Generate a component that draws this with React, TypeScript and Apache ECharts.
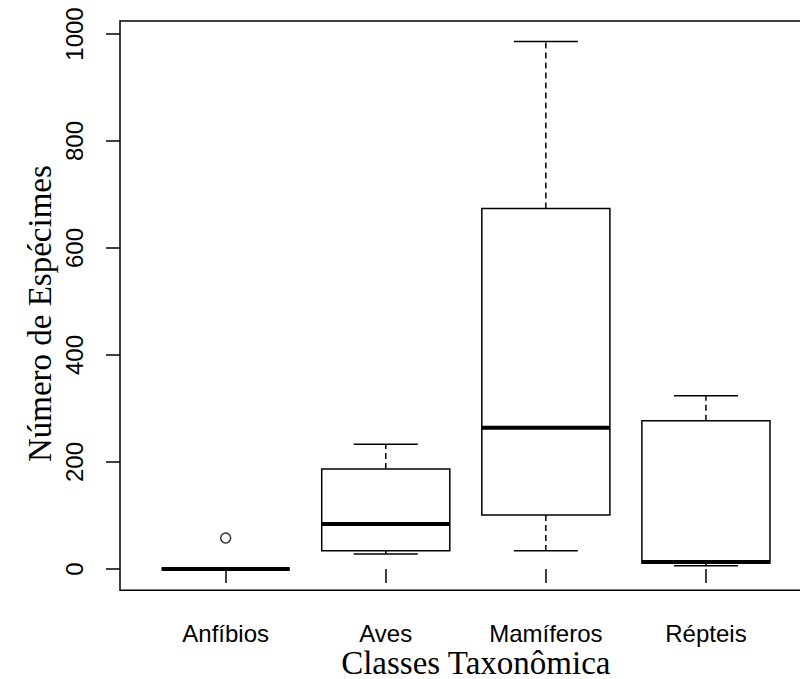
import React, { useEffect, useRef } from "react";
import * as echarts from "echarts";

const categories = ["Anfíbios", "Aves", "Mamíferos", "Répteis"];
const mins = [0, 28, 34, 6];
const q1s = [0, 34, 101, 11];
const medians = [0, 84, 264, 13];
const q3s = [0, 187, 674, 277];
const maxs = [0, 233, 986, 324];
const outliers: [number, number][] = [[1, 58]];
const yTicks = [0, 200, 400, 600, 800, 1000];

export default function App() {
  const ref = useRef<HTMLDivElement>(null);
  useEffect(() => {
    if (!ref.current) return;
    const chart = echarts.init(ref.current, null, { renderer: "svg" });
    const boxData = categories.map((_, i) => [i + 1, mins[i], q1s[i], medians[i], q3s[i], maxs[i]]);
    const sans = "Liberation Sans, Arial, sans-serif";
    const serif = "Liberation Serif, Times New Roman, serif";
    chart.setOption({
      animation: false,
      backgroundColor: "#fff",
      grid: {
        left: 120,
        top: 21,
        right: -11.6,
        bottom: 88.7,
        show: true,
        containLabel: false,
        outerBoundsMode: "none",
        borderColor: "#000",
        borderWidth: 1.5,
        backgroundColor: "transparent",
      },
      xAxis: {
        type: "value",
        min: 0.34,
        max: 4.66,
        name: "Classes Taxonômica",
        nameLocation: "middle",
        nameGap: 59,
        nameMoveOverlap: false,
        nameTextStyle: { fontFamily: serif, fontSize: 33, lineHeight: 27, color: "#000", padding: [0, 0, 0, 20] },
        axisLine: { show: false },
        splitLine: { show: false },
        axisTick: { show: true, customValues: [1, 2, 3, 4], length: 14, lineStyle: { color: "#000", width: 1.5 } },
        axisLabel: {
          customValues: [1, 2, 3, 4],
          formatter: (v: number) => categories[Math.round(v) - 1] ?? "",
          fontFamily: sans,
          fontSize: 24,
          lineHeight: 23,
          color: "#000",
          margin: 32,
        },
      },
      yAxis: {
        type: "value",
        min: -39.8,
        max: 1024.3,
        name: "Número de Espécimes",
        nameLocation: "middle",
        nameGap: 64,
        nameMoveOverlap: false,
        nameTextStyle: { fontFamily: serif, fontSize: 33, color: "#000", padding: [0, 16, 0, 0] },
        axisLine: { show: false },
        splitLine: { show: false },
        axisTick: { show: true, customValues: yTicks, length: 14, lineStyle: { color: "#000", width: 1.5 } },
        axisLabel: {
          customValues: yTicks,
          formatter: (v: number) => String(v),
          rotate: 90,
          fontFamily: sans,
          fontSize: 24,
          color: "#000",
          margin: 34,
        },
      },
      series: [
        {
          type: "custom",
          data: boxData,
          clip: false,
          renderItem: (params: any, api: any) => {
            const x = api.value(0);
            const unit = api.size([1, 0])[0];
            const half = unit * 0.4;
            const cap = unit * 0.2;
            const pMin = api.coord([x, api.value(1)]);
            const pQ1 = api.coord([x, api.value(2)]);
            const pMed = api.coord([x, api.value(3)]);
            const pQ3 = api.coord([x, api.value(4)]);
            const pMax = api.coord([x, api.value(5)]);
            const cx = pMed[0];
            const stroke = { stroke: "#000", lineWidth: 1.5, fill: "none" };
            const dashed = { stroke: "#000", lineWidth: 1.5, lineDash: [6, 4] };
            return {
              type: "group",
              children: [
                { type: "line", shape: { x1: cx, y1: pQ3[1], x2: cx, y2: pMax[1] }, style: dashed },
                { type: "line", shape: { x1: cx, y1: pQ1[1], x2: cx, y2: pMin[1] }, style: dashed },
                { type: "line", shape: { x1: cx - cap, y1: pMax[1], x2: cx + cap, y2: pMax[1] }, style: stroke },
                { type: "line", shape: { x1: cx - cap, y1: pMin[1], x2: cx + cap, y2: pMin[1] }, style: stroke },
                {
                  type: "rect",
                  shape: { x: cx - half, y: pQ3[1], width: half * 2, height: pQ1[1] - pQ3[1] },
                  style: { stroke: "#000", lineWidth: 1.5, fill: "#fff" },
                },
                { type: "line", shape: { x1: cx - half, y1: pMed[1], x2: cx + half, y2: pMed[1] }, style: { stroke: "#000", lineWidth: 4 } },
              ],
            };
          },
        },
        {
          type: "scatter",
          data: outliers,
          symbol: "circle",
          symbolSize: 10,
          itemStyle: { color: "#fff", borderColor: "#000", borderWidth: 1.5 },
        },
      ],
    });
    return () => chart.dispose();
  }, []);
  return <div ref={ref} style={{ position: "fixed", left: 0, top: 0, width: 800, height: 679 }} />;
}
